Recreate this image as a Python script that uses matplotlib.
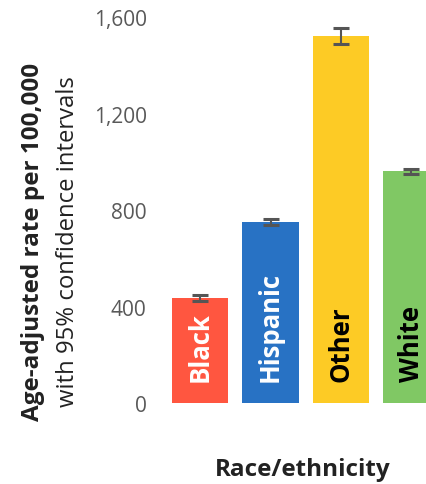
import matplotlib.pyplot as plt
import numpy as np

# age-adjusted rate per 100,000 by race/ethnicity, with 95% CI bounds
groups = ["Black", "Hispanic", "Other", "White"]
rates = [435, 750, 1521, 962]
ci_low = [422, 738, 1488, 948]
ci_high = [449, 761, 1553, 969]
colors = ["#FF5640", "#2872C4", "#FDCB25", "#80C864"]
label_colors = ["white", "white", "black", "black"]
yticks = [0, 400, 800, 1200, 1600]

plt.rcParams["font.family"] = ["Open Sans", "DejaVu Sans"]

fig = plt.figure(figsize=(4.27, 4.85), dpi=100)
ax = fig.add_axes([155 / 427, 81 / 485, 272 / 427, 386 / 485])

x = np.arange(len(groups))
rates_arr = np.array(rates)
yerr = np.array([rates_arr - np.array(ci_low), np.array(ci_high) - rates_arr])

ax.bar(x, rates, width=0.8, color=colors, zorder=2)
ax.errorbar(x, rates, yerr=yerr, fmt="none", ecolor="#555555",
            elinewidth=1.5, capsize=5.8, capthick=2.2, zorder=3)

for xi, name, tc in zip(x, groups, label_colors):
    ax.text(xi, 90, name, rotation=90, ha="center", va="bottom",
            fontsize=18.5, fontweight="bold", color=tc, zorder=4)

ax.set_xlim(-0.64, 3.22)
ax.set_ylim(0, 1600)
ax.set_xticks([])
ax.set_yticks(yticks)
ax.set_yticklabels([f"{v:,}" for v in yticks], fontsize=15, color="#595959")
ax.tick_params(axis="y", length=0, pad=6)
for s in ax.spines.values():
    s.set_visible(False)

fig.text(33 / 427, 1 - 242 / 485, "Age-adjusted rate per 100,000",
         rotation=90, ha="center", va="center", fontsize=17.5,
         fontweight="bold", color="#222222")
fig.text(68 / 427, 1 - 242 / 485, "with 95% confidence intervals",
         rotation=90, ha="center", va="center", fontsize=17.2,
         color="#222222")
fig.text(303 / 427, 1 - 470 / 485, "Race/ethnicity", ha="center",
         va="center", fontsize=17.5, fontweight="bold", color="#222222")

fig.savefig("out.png", dpi=100)
